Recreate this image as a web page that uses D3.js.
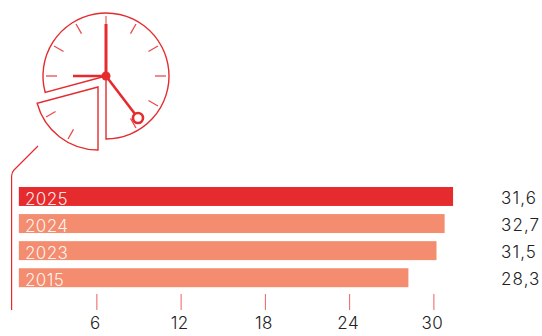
<!DOCTYPE html>
<html><head><meta charset="utf-8">
<script src="https://cdn.jsdelivr.net/npm/d3@7/dist/d3.min.js"></script>
<style>html,body{margin:0;background:#fff}svg{display:block}text{font-family:Inter,"Liberation Sans",sans-serif;font-weight:300}</style>
</head><body><svg id="c" width="542" height="336"></svg>
<script>
const years=["2025","2024","2023","2015"];
const barValues=[31.4,30.8,30.22,28.22];
const valueLabels=["31,6","32,7","31,5","28,3"];
const barColors=["#e52b2d","#f48c70","#f48c70","#f48c70"];
const tickValues=[6,12,18,24,30];
const hourMarks=[1,2,3,4,5,9,10,11];
const sliceMarks=[7,8];
const barStart=0.48;
const red="#e52b2d";

const svg=d3.select("#c");
const x=d3.scaleLinear().domain([0,30]).range([12.1,433.4]);
const y=d3.scaleBand().domain(years).range([187,287.2]).paddingInner(0.3).paddingOuter(0);

svg.selectAll("rect.b").data(years).join("rect").attr("class","b")
 .attr("x",x(barStart)).attr("y",d=>y(d))
 .attr("width",(d,i)=>x(barValues[i])-x(barStart)).attr("height",y.bandwidth())
 .attr("fill",(d,i)=>barColors[i]);
svg.selectAll("text.y").data(years).join("text").attr("class","y")
 .attr("x",25).attr("y",d=>y(d)+y.bandwidth()-1).attr("font-size",17).attr("letter-spacing",0.4)
 .attr("fill","#fff").attr("fill-opacity",0.9).text(d=>d);
svg.selectAll("text.v").data(years).join("text").attr("class","v")
 .attr("x",501).attr("y",d=>y(d)+16.5).attr("font-size",17).attr("letter-spacing",1.1)
 .attr("fill","#222").text((d,i)=>valueLabels[i]);

const ax=svg.append("g").attr("transform","translate(0,294)")
 .call(d3.axisBottom(x).tickValues(tickValues).tickSize(16).tickPadding(7));
ax.select(".domain").remove();
ax.selectAll("line").attr("stroke",red).attr("stroke-opacity",0.75).attr("stroke-width",1);
ax.selectAll("text").attr("font-size",17).attr("font-family","Inter").attr("letter-spacing",0.4).attr("fill","#222").attr("dx",-1.5);

// leader line
const lead=d3.path();lead.moveTo(38,146);lead.lineTo(14,170);lead.quadraticCurveTo(11.6,172.5,11.6,176);lead.lineTo(11.6,310);
svg.append("path").attr("d",lead.toString()).attr("fill","none").attr("stroke",red).attr("stroke-width",1.2);

// clock
const R=63,deg=Math.PI/180;
const arc=d3.arc().innerRadius(0).outerRadius(R);
const mark=(h,c)=>{const a=h*30*deg;return [c[0]+49*Math.sin(a),c[1]-49*Math.cos(a),c[0]+60*Math.sin(a),c[1]-60*Math.cos(a)];};
const main=[106,76],slice=[98,87];
svg.append("path").attr("transform",`translate(${main})`)
 .attr("d",arc({startAngle:-105*deg,endAngle:180*deg}))
 .attr("fill","#fff").attr("stroke",red).attr("stroke-width",1.4);
svg.append("path").attr("transform",`translate(${slice})`)
 .attr("d",arc({startAngle:180*deg,endAngle:255*deg}))
 .attr("fill","#fff").attr("stroke",red).attr("stroke-width",1.4);
[[hourMarks,main],[sliceMarks,slice]].forEach(([ms,c])=>{
 svg.selectAll(null).data(ms).join("line").each(function(h){
  const p=mark(h,c);d3.select(this).attr("x1",p[0]).attr("y1",p[1]).attr("x2",p[2]).attr("y2",p[3]);
 }).attr("stroke",red).attr("stroke-width",1.3).attr("stroke-opacity",.85);
});
svg.append("line").attr("x1",106).attr("y1",76).attr("x2",106).attr("y2",16).attr("stroke",red).attr("stroke-width",1.3).attr("stroke-opacity",.7);
svg.append("line").attr("x1",106).attr("y1",76).attr("x2",106).attr("y2",24).attr("stroke",red).attr("stroke-width",3);
svg.append("line").attr("x1",106).attr("y1",76).attr("x2",73).attr("y2",76).attr("stroke",red).attr("stroke-width",2.6);
svg.append("line").attr("x1",106).attr("y1",76).attr("x2",135).attr("y2",114).attr("stroke",red).attr("stroke-width",2.6);
svg.append("circle").attr("cx",106).attr("cy",76).attr("r",4.5).attr("fill",red);
svg.append("circle").attr("cx",138).attr("cy",118).attr("r",5).attr("fill","#fff").attr("stroke",red).attr("stroke-width",2.6);
</script></body></html>
